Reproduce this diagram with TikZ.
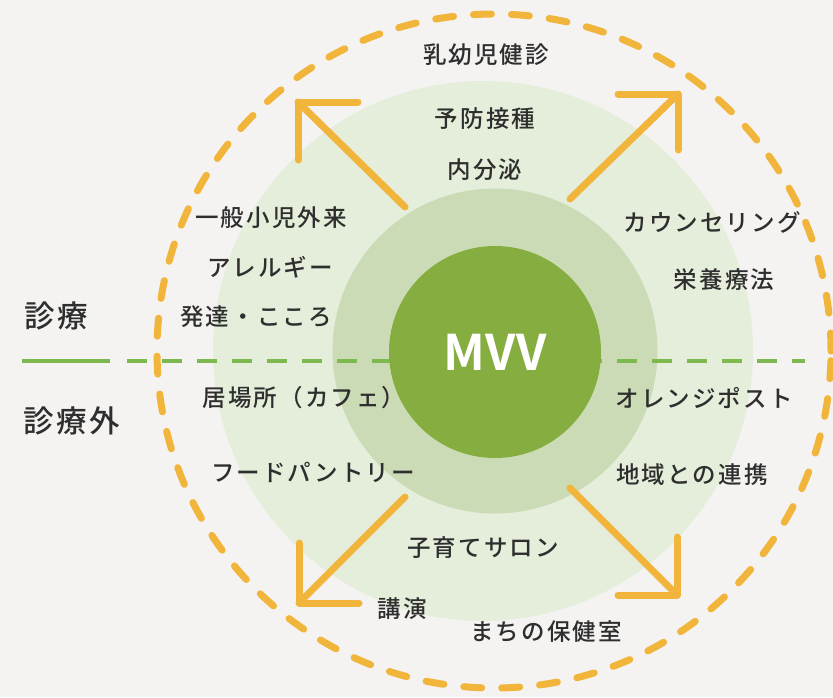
\documentclass[tikz,border=0pt]{standalone}
\usepackage{fontspec}
\newfontfamily\jp[LetterSpace=9]{Noto Sans CJK JP Medium}
\newfontfamily\jpbold{Noto Sans CJK JP Bold}
\definecolor{bg}{HTML}{F4F3F1}
\definecolor{outerc}{HTML}{E4EEDA}
\definecolor{midc}{HTML}{CBDBB5}
\definecolor{innerc}{HTML}{86AD3F}
\definecolor{orangec}{HTML}{F2B53C}
\definecolor{greenl}{HTML}{7DB94F}
\definecolor{txt}{HTML}{2E2E2E}
\tikzset{
  disc/.style={circle, draw=none, inner sep=0pt},
  lbl/.style={font=\jp\fontsize{23.5}{26}\selectfont, text=txt, inner sep=0pt},
  biglbl/.style={font=\jp\fontsize{30.5}{34}\selectfont, text=txt, inner sep=0pt},
  arr/.style={draw=orangec, line width=7pt, line cap=round, line join=round},
}
\begin{document}
\begin{tikzpicture}[x=1pt,y=-1pt]
\fill[bg] (0,0) rectangle (833,697);
\useasboundingbox (0,0) rectangle (833,697);
% circles
\node[disc, fill=outerc, minimum size=540pt] (outer) at (483,351) {};
\node[disc, fill=midc, minimum size=325pt] (mid) at (495,351) {};
% divider
\coordinate (g0) at (22,361);
\coordinate (g1) at (110,361);
\coordinate (g2) at (127,361);
\coordinate (g3) at (805,361);
\draw[greenl, line width=3.5pt] (g0) -- (g1);
\draw[greenl, line width=3.5pt, dash pattern=on 20pt off 15pt] (g2) -- (g3);
\node[disc, fill=innerc, minimum size=212pt, text=white, font=\jpbold\fontsize{49}{52}\selectfont] (mvv) at (495,352) {MVV};
% orange dashed ring
\node[disc, draw=orangec, line width=7pt, minimum size=674pt, dash pattern=on 18pt off 20pt, line cap=round] (ring) at (494,351) {};
% arrows
\coordinate (a1s) at (405,207); \coordinate (a1t) at (298,102);
\coordinate (a1h) at (358,102); \coordinate (a1v) at (298,160);
\draw[arr] (a1s) -- (a1t); \draw[arr] (a1h) -- (a1t) -- (a1v);
\coordinate (a2s) at (570,199); \coordinate (a2t) at (678,94);
\coordinate (a2h) at (618,94); \coordinate (a2v) at (678,150);
\draw[arr] (a2s) -- (a2t); \draw[arr] (a2h) -- (a2t) -- (a2v);
\coordinate (a3s) at (405,497); \coordinate (a3t) at (299,603);
\coordinate (a3h) at (359,603); \coordinate (a3v) at (299,543);
\draw[arr] (a3s) -- (a3t); \draw[arr] (a3h) -- (a3t) -- (a3v);
\coordinate (a4s) at (570,488); \coordinate (a4t) at (677,595);
\coordinate (a4h) at (618,595); \coordinate (a4v) at (677,537);
\draw[arr] (a4s) -- (a4t); \draw[arr] (a4h) -- (a4t) -- (a4v);
% labels
\node[lbl] (t1) at (486,55) {乳幼児健診};
\node[lbl] (t2) at (485,119) {予防接種};
\node[lbl] (t3) at (485,170) {内分泌};
\node[lbl] (t4) at (271,218) {一般小児外来};
\node[lbl] (t5) at (270,267) {アレルギー};
\node[lbl] (t6) at (256,317) {発達・こころ};
\node[biglbl] (t7) at (56,316) {診療};
\node[biglbl] (t8) at (72,421) {診療外};
\node[lbl] (t9) at (304,398) {居場所（カフェ）};
\node[lbl] (t10) at (313,472) {フードパントリー};
\node[lbl] (t11) at (483,548) {子育てサロン};
\node[lbl] (t12) at (402,609) {講演};
\node[lbl] (t13) at (546,632) {まちの保健室};
\node[lbl] (t14) at (712,222) {カウンセリング};
\node[lbl] (t15) at (724,280) {栄養療法};
\node[lbl] (t16) at (704,398) {オレンジポスト};
\node[lbl] (t17) at (692,475) {地域との連携};
\end{tikzpicture}
\end{document}
